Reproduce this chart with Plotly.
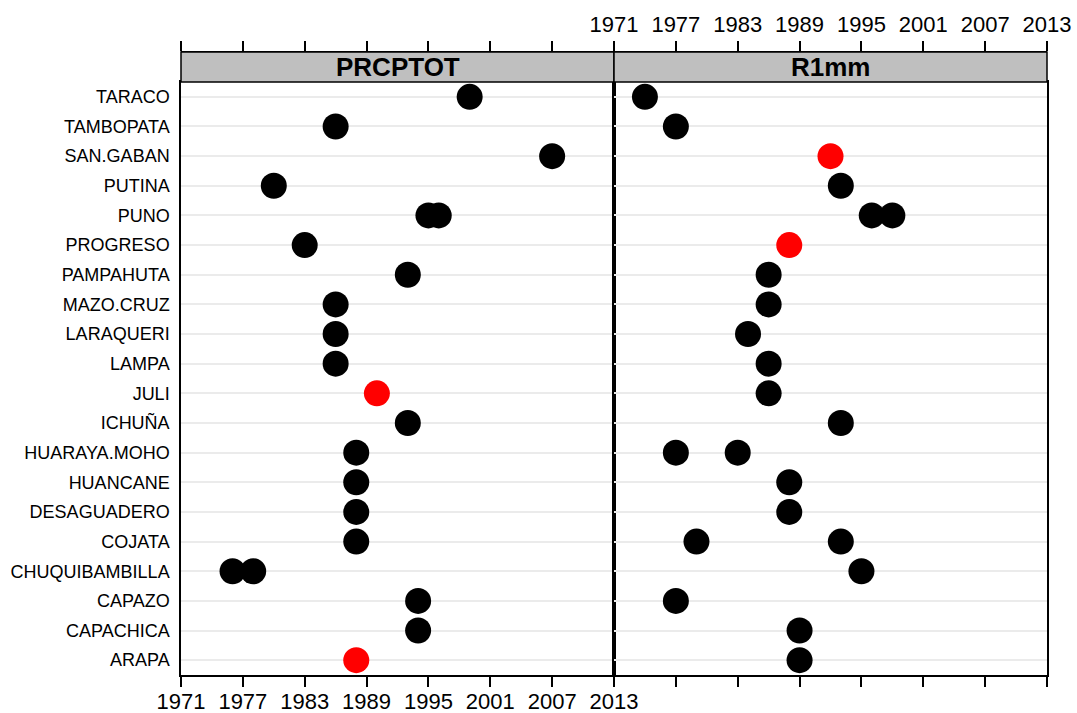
import plotly.graph_objects as go

stations = ["ARAPA", "CAPACHICA", "CAPAZO", "CHUQUIBAMBILLA", "COJATA", "DESAGUADERO",
            "HUANCANE", "HUARAYA.MOHO", "ICHUÑA", "JULI", "LAMPA", "LARAQUERI",
            "MAZO.CRUZ", "PAMPAHUTA", "PROGRESO", "PUNO", "PUTINA", "SAN.GABAN",
            "TAMBOPATA", "TARACO"]

panels = ["PRCPTOT", "R1mm"]

prcptot_station = ["TARACO", "TAMBOPATA", "SAN.GABAN", "PUTINA", "PUNO", "PUNO", "PROGRESO",
                   "PAMPAHUTA", "MAZO.CRUZ", "LARAQUERI", "LAMPA", "JULI", "ICHUÑA",
                   "HUARAYA.MOHO", "HUANCANE", "DESAGUADERO", "COJATA", "CHUQUIBAMBILLA",
                   "CHUQUIBAMBILLA", "CAPAZO", "CAPACHICA", "ARAPA"]
prcptot_year = [1999, 1986, 2007, 1980, 1995, 1996, 1983, 1993, 1986, 1986, 1986, 1990, 1993,
                1988, 1988, 1988, 1988, 1976, 1978, 1994, 1994, 1988]
prcptot_sig = [0, 0, 0, 0, 0, 0, 0, 0, 0, 0, 0, 1, 0, 0, 0, 0, 0, 0, 0, 0, 0, 1]

r1mm_station = ["TARACO", "TAMBOPATA", "SAN.GABAN", "PUTINA", "PUNO", "PUNO", "PROGRESO",
                "PAMPAHUTA", "MAZO.CRUZ", "LARAQUERI", "LAMPA", "JULI", "ICHUÑA",
                "HUARAYA.MOHO", "HUARAYA.MOHO", "HUANCANE", "DESAGUADERO", "COJATA", "COJATA",
                "CHUQUIBAMBILLA", "CAPAZO", "CAPACHICA", "ARAPA"]
r1mm_year = [1974, 1977, 1992, 1993, 1996, 1998, 1988, 1986, 1986, 1984, 1986, 1986, 1993,
             1977, 1983, 1988, 1988, 1979, 1993, 1995, 1977, 1989, 1989]
r1mm_sig = [0, 0, 1, 0, 0, 0, 1, 0, 0, 0, 0, 0, 0, 0, 0, 0, 0, 0, 0, 0, 0, 0, 0]

year_ticks = [1971, 1977, 1983, 1989, 1995, 2001, 2007, 2013]
xrange_ = [1971, 2013]

W, H = 1077, 713
ml, mr, mt, mb = 181, 30, 52, 38
ph = H - mt - mb
strip_h = 30
ytop = 1 - strip_h / ph

FONT = "Liberation Sans, Arial, sans-serif"

fig = go.Figure()

def add_panel(stn, yr, sig, xa, ya):
    fig.add_trace(go.Scatter(
        x=yr, y=stn, mode="markers", xaxis=xa, yaxis=ya,
        marker=dict(size=26, color=["red" if s else "black" for s in sig], line=dict(width=0)),
        showlegend=False, hoverinfo="x+y"))

add_panel(prcptot_station, prcptot_year, prcptot_sig, "x", "y")
add_panel(r1mm_station, r1mm_year, r1mm_sig, "x2", "y2")
# invisible traces for overlay (top tick) axes
fig.add_trace(go.Scatter(x=[xrange_[0]], y=[stations[0]], xaxis="x3", yaxis="y",
                         mode="markers", marker=dict(opacity=0), showlegend=False, hoverinfo="skip"))
fig.add_trace(go.Scatter(x=[xrange_[0]], y=[stations[0]], xaxis="x4", yaxis="y2",
                         mode="markers", marker=dict(opacity=0), showlegend=False, hoverinfo="skip"))

axis_common = dict(range=xrange_, tickvals=year_ticks, ticks="outside", ticklen=10,
                   tickwidth=1.5, tickcolor="black", showgrid=False, zeroline=False,
                   showline=True, linecolor="black", linewidth=1.5, automargin=False,
                   tickfont=dict(family=FONT, size=22, color="black"))

split = 0.5
fig.update_layout(
    width=W, height=H,
    margin=dict(l=ml, r=mr, t=mt, b=mb, autoexpand=False),
    paper_bgcolor="white", plot_bgcolor="white",
    xaxis=dict(domain=[0, split], anchor="y", side="bottom", mirror=True,
               ticklabelstandoff=-4, **axis_common),
    xaxis2=dict(domain=[split, 1], anchor="y2", side="bottom", mirror=True,
                showticklabels=False, **axis_common),
    xaxis3=dict(domain=[0, split], overlaying="x", anchor="free", position=1,
                side="top", showticklabels=False, **axis_common),
    xaxis4=dict(domain=[split, 1], overlaying="x2", anchor="free", position=1,
                side="top", **axis_common),
    yaxis=dict(domain=[0, ytop], anchor="x", type="category", categoryorder="array",
               categoryarray=stations, range=[-0.5, len(stations) - 0.5],
               showgrid=True, gridcolor="#ebebeb", gridwidth=1.5, ticks="", automargin=False,
               showline=True, linecolor="black", linewidth=1.5, mirror=True,
               tickfont=dict(family=FONT, size=18, color="black"), ticklabelstandoff=6),
    yaxis2=dict(domain=[0, ytop], anchor="x2", type="category", categoryorder="array",
                categoryarray=stations, range=[-0.5, len(stations) - 0.5],
                showgrid=True, gridcolor="#ebebeb", gridwidth=1.5, ticks="", automargin=False,
                showticklabels=False, showline=True, linecolor="black", linewidth=1.5,
                mirror=True),
)

for xr, label in zip(["x domain", "x2 domain"], panels):
    fig.add_shape(type="rect", xref=xr, yref="paper", x0=0, x1=1, y0=ytop, y1=1,
                  fillcolor="#bfbfbf", line=dict(color="black", width=1.5), layer="above")
    fig.add_annotation(xref=xr, yref="paper", x=0.5, y=(1 + ytop) / 2, text=f"<b>{label}</b>",
                       showarrow=False, font=dict(family=FONT, size=26, color="black"),
                       xanchor="center", yanchor="middle")

fig.write_html("out.html")
